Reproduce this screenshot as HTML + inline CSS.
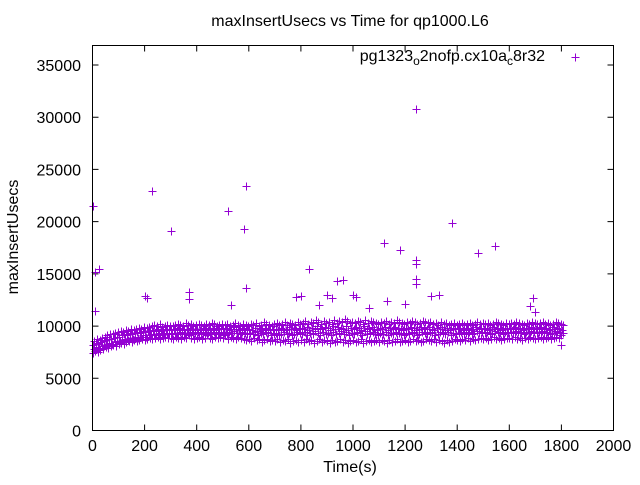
<!DOCTYPE html>
<html><head><meta charset="utf-8"><style>
body{margin:0;background:#fff}
svg{font-family:"Liberation Sans",sans-serif;}
</style></head><body>
<svg id="chart" width="640" height="480" viewBox="0 0 640 480" xmlns="http://www.w3.org/2000/svg">
<rect width="640" height="480" fill="#fff"/>
<text x="350" y="26" font-size="16" text-anchor="middle">maxInsertUsecs vs Time for qp1000.L6</text>
<text x="350" y="472" font-size="16" text-anchor="middle">Time(s)</text>
<text transform="translate(18,237) rotate(-90)" font-size="16" text-anchor="middle">maxInsertUsecs</text>
<g id="axes"></g>
<g id="marks"></g>
<g>
<text x="545" y="61" font-size="16" text-anchor="end">pg1323<tspan font-size="12" dy="4">o</tspan><tspan dy="-4">2nofp.cx10a</tspan><tspan font-size="12" dy="4">c</tspan><tspan dy="-4">8r32</tspan></text>
<path d="M571.5 57.5h8M575.5 53.5v8" stroke="#9400d3" stroke-width="1" shape-rendering="crispEdges"/>
</g>
<rect x="92.5" y="45.5" width="521" height="385" fill="none" stroke="#000"/>
</svg>
<script>
const xTicks=[0,200,400,600,800,1000,1200,1400,1600,1800,2000];
const yTicks=[0,5000,10000,15000,20000,25000,30000,35000];
const timeStep=10;
const bandLo=[74,76,75,77,78,80,79,81,82,81,83,84,83,85,86,85,87,86,87,88,87,88,89,88,89,90,88,89,90,89,89,88,90,89,88,90,89,91,89,88,89,90,88,89,91,89,88,90,89,90,89,91,88,90,89,88,90,89,88,87,88,86,89,87,88,85,87,88,86,87,86,88,85,87,86,88,84,86,87,85,87,85,88,86,87,84,86,88,85,87,86,84,87,85,86,88,85,87,84,86,87,85,86,88,84,86,87,85,86,87,85,87,86,84,87,85,86,88,85,86,87,85,86,88,86,87,85,86,88,87,86,88,85,87,86,84,87,85,86,88,87,86,88,87,89,86,88,87,88,89,88,89,87,88,90,88,89,87,88,89,89,88,90,88,89,87,89,88,90,89,88,89,90,88,89,90,88,89,90,89,91];
const bandB=[78,80,79,81,82,83,84,83,85,86,86,87,88,87,89,88,90,89,90,91,90,91,92,91,92,93,91,92,93,92,92,93,92,94,93,92,93,94,92,93,94,93,92,94,93,92,94,93,92,94,93,92,94,93,95,93,92,94,93,92,93,92,94,91,93,92,94,93,91,92,93,91,92,94,92,93,91,92,94,93,92,94,91,93,92,95,93,91,94,92,93,91,94,92,93,95,92,94,91,93,92,94,93,91,95,92,93,94,92,91,93,92,94,91,93,92,94,93,92,91,93,92,94,93,91,92,94,93,92,94,93,91,92,94,93,92,94,91,93,92,93,94,92,93,94,92,93,95,93,94,93,94,92,93,95,94,93,92,94,93,94,93,95,94,93,92,94,93,95,94,93,94,95,93,94,92,93,95,94,93,93];
const bandC=[82,84,83,85,86,87,88,88,89,90,90,91,92,91,93,92,93,94,93,95,94,95,96,95,96,97,95,96,97,96,96,97,96,98,97,96,97,98,96,97,97,96,98,97,96,98,97,96,98,97,97,98,96,97,99,97,96,98,97,96,97,96,98,95,97,96,98,97,96,97,97,96,98,97,96,99,97,98,96,97,98,97,99,96,98,97,100,98,97,99,98,96,100,97,99,98,97,100,96,98,97,99,98,96,100,97,98,99,97,96,98,97,99,96,98,97,99,98,97,96,98,97,99,98,96,97,99,98,97,99,97,96,98,99,97,96,98,96,97,98,97,98,96,97,98,96,97,99,97,98,97,98,96,97,99,98,97,96,98,97,98,97,99,98,97,96,98,97,99,98,97,98,99,97,98,96,97,99,98,97,96];
const bandD=[86,88,87,89,90,91,92,92,93,94,95,94,96,95,97,96,97,98,97,99,98,99,100,101,100,102,99,100,101,100,100,101,102,101,100,103,101,102,100,101,102,101,100,102,101,103,102,100,101,102,101,102,100,101,103,101,100,102,101,100,102,101,103,100,101,104,102,101,100,102,103,101,102,104,101,103,102,101,104,102,103,105,102,104,103,106,104,102,105,103,104,102,106,103,105,104,107,105,103,104,103,105,104,102,106,103,105,104,103,102,104,103,105,102,104,103,106,104,103,102,104,103,105,104,102,103,105,104,103,104,102,103,101,104,102,103,101,102,103,101,102,103,101,102,103,101,102,104,102,103,102,103,101,102,104,103,102,101,103,102,103,102,104,103,102,101,103,102,104,103,102,103,104,102,103,101,102,104,103,102,101];
const bandOffsetSec=[0,5,2.5,7.5];
const outT=[0,10,10,25,200,210,230,300,370,370,520,530,580,590,590,830,780,800,900,920,940,960,1000,1120,1180,1200,1240,1240,1240,1240,1240,1300,1330,1380,1480,1545,1690,1800,1700,1680,1010,1060,870,1130];
const outV=[21500,11400,15200,15500,12900,12700,22900,19100,13300,12600,21000,12000,19300,23400,13600,15500,12800,12900,13000,12700,14300,14400,13000,18000,17300,12100,30800,16300,15900,14500,14000,12900,13000,19900,17000,17700,12700,8200,11300,11900,12800,11700,12000,12400];
const X0=92.5,X1=613.5,Y0=430.5;
const xs=v=>X0+v/2000*(X1-X0);
const ys=v=>Y0-v*(365.5/35000);
const NS='http://www.w3.org/2000/svg';
const axes=document.getElementById('axes'),marks=document.getElementById('marks');
xTicks.forEach(t=>{
 const p=document.createElementNS(NS,'path');
 p.setAttribute('d',`M${xs(t)} ${Y0}v-6M${xs(t)} 45.5v6`);p.setAttribute('stroke','#000');
 
 
 axes.appendChild(p);
 const l=document.createElementNS(NS,'text');
 l.setAttribute('x',xs(t));l.setAttribute('y',451);l.setAttribute('font-size','16');l.setAttribute('text-anchor','middle');l.textContent=t;
 
 
 axes.appendChild(l);
});
yTicks.forEach(t=>{
 const p=document.createElementNS(NS,'path');
 p.setAttribute('d',`M${X0} ${ys(t)}h6M${X1} ${ys(t)}h-6`);p.setAttribute('stroke','#000');
 
 
 axes.appendChild(p);
 const l=document.createElementNS(NS,'text');
 l.setAttribute('x',81);l.setAttribute('y',ys(t)+6);l.setAttribute('font-size','16');l.setAttribute('text-anchor','end');l.textContent=t;
 
 
 axes.appendChild(l);
});
let d='';
function plus(t,v){const x=Math.round(xs(t))+0.5,y=Math.round(ys(v))+0.5;d+=`M${x-4} ${y}h8M${x} ${y-4}v8`;}
[bandLo,bandB,bandC,bandD].forEach((arr,k)=>arr.forEach((v,i)=>plus(i*timeStep+bandOffsetSec[k],v*100)));
outT.forEach((t,i)=>plus(t,outV[i]));
const path=document.createElementNS(NS,'path');
path.setAttribute('d',d);path.setAttribute('stroke','#9400d3');path.setAttribute('fill','none');
path.setAttribute('shape-rendering','crispEdges');


marks.appendChild(path);
</script>
</body></html>
